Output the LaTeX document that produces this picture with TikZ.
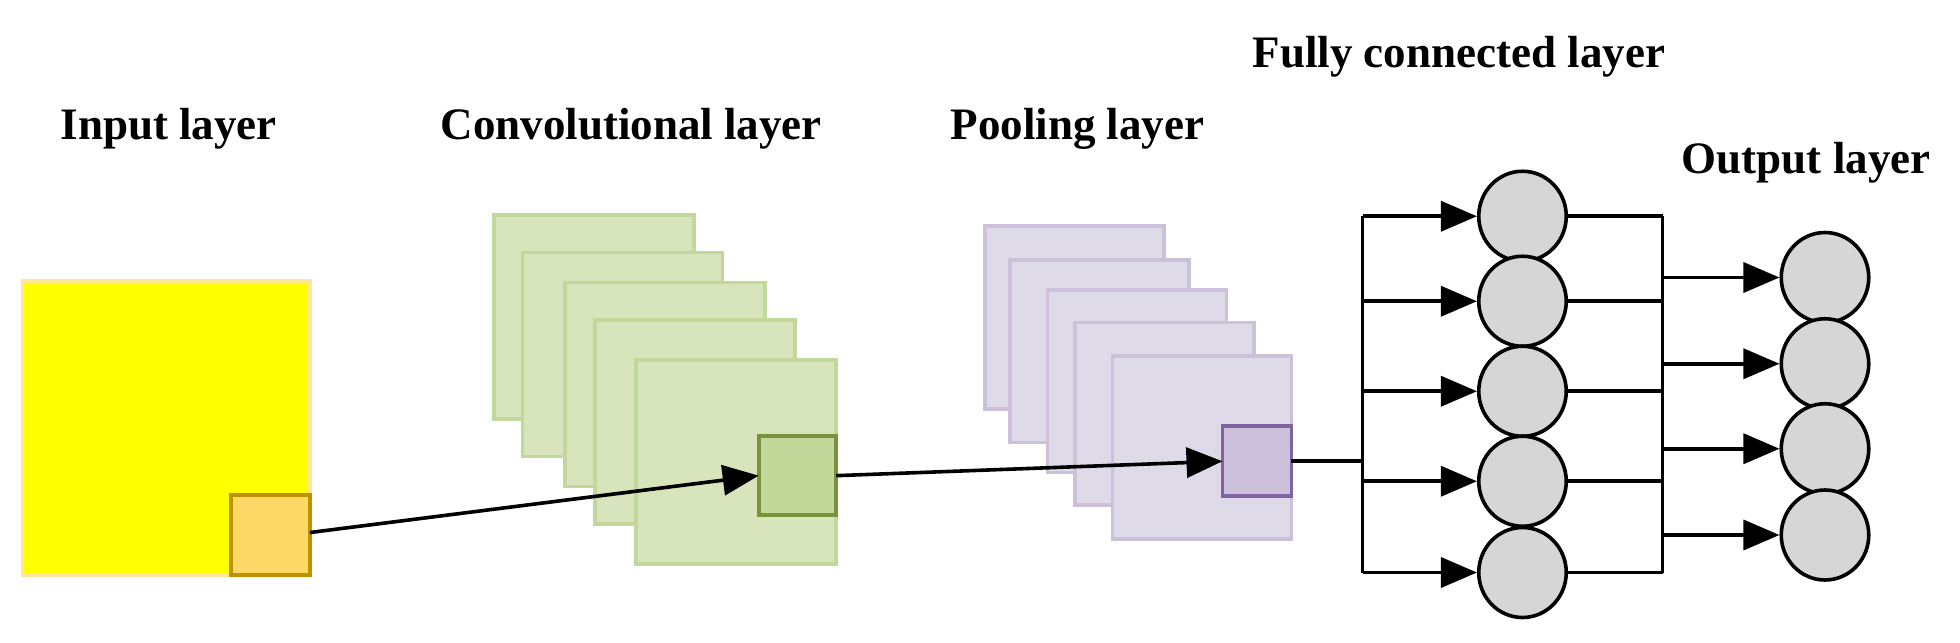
\documentclass[tikz,border=0pt]{standalone}
\usepackage{fontspec}
\setmainfont{Liberation Serif}
\usetikzlibrary{shapes.geometric,arrows.meta}
\definecolor{inF}{HTML}{FFFF00}\definecolor{inD}{HTML}{FFE699}
\definecolor{ikF}{HTML}{FFD966}\definecolor{ikD}{HTML}{BF9000}
\definecolor{cvF}{HTML}{D8E4BC}\definecolor{cvD}{HTML}{C4D79B}
\definecolor{ckF}{HTML}{C4D79B}\definecolor{ckD}{HTML}{77933C}
\definecolor{plF}{HTML}{DFDAE8}\definecolor{plD}{HTML}{CCC0DA}
\definecolor{pkF}{HTML}{CCC0DA}\definecolor{pkD}{HTML}{8064A2}
\begin{document}
\begin{tikzpicture}[x=0.625pt,y=-0.625pt,
  box/.style={draw,line width=1.8pt,inner sep=0,outer sep=0,anchor=north west},
  inp/.style={box,fill=inF,draw=inD,minimum width=143.75pt,minimum height=146.9pt},
  inpk/.style={box,fill=ikF,draw=ikD,minimum width=39.4pt,minimum height=40pt},
  conv/.style={box,fill=cvF,draw=cvD,minimum width=100pt,minimum height=101.9pt},
  convk/.style={box,fill=ckF,draw=ckD,minimum width=38.75pt,minimum height=39.4pt},
  pool/.style={box,fill=plF,draw=plD,minimum width=89.4pt,minimum height=91.25pt},
  poolk/.style={box,fill=pkF,draw=pkD,minimum width=34.4pt,minimum height=35pt},
  neu/.style={ellipse,draw,line width=1.8pt,fill=black!16,minimum width=43.75pt,minimum height=45pt,inner sep=0},
  con/.style={line width=1.8pt},
  arr/.style={con,-{Triangle[length=18pt,width=15pt]}},
  lab/.style={font=\fontsize{22.5pt}{25pt}\selectfont\bfseries}]
\useasboundingbox (0,0) rectangle (1568,514);
% labels
\node[lab] (l1) at (135,103) {Input layer};
\node[lab] (l2) at (505,103) {Convolutional layer};
\node[lab] (l3) at (862,103) {Pooling layer};
\node[lab] (l4) at (1167,45) {Fully connected layer};
\node[lab] (l5) at (1445,130) {Output layer};
% input
\node[inp] (in) at (18,225) {};
\node[inpk] (ink) at (185,396) {};
% conv
\node[conv] (c1) at (395,172) {};
\node[conv] (c2) at (418,202) {};
\node[conv] (c3) at (452,226) {};
\node[conv] (c4) at (476,256) {};
\node[conv] (c5) at (509,288) {};
\node[convk] (ck) at (607,349) {};
% pool
\node[pool] (p1) at (788,181) {};
\node[pool] (p2) at (808,208) {};
\node[pool] (p3) at (838,232) {};
\node[pool] (p4) at (860,258) {};
\node[pool] (p5) at (890,285) {};
\node[poolk] (pk) at (978,341) {};
\draw[arr] (ink.east) ++(0,-2) -- (ck.west);
\draw[arr] (ck.east) -- (pk.west);
% fully connected
\foreach \i/\y in {1/173,2/241,3/313,4/385,5/458} \node[neu] (f\i) at (1218,\y) {};
\foreach \i/\y in {1/222,2/291,3/359,4/428} \node[neu] (o\i) at (1460,\y) {};
\coordinate (bl) at (1090,173);
\coordinate (br) at (1330,173);
\draw[con] (pk.east) -- (pk.east -| bl);
\draw[con] (bl) -- (bl |- f5);
\draw[con] (br) -- (br |- f5);
\foreach \i in {1,...,5} {
  \draw[arr] (bl |- f\i) -- (f\i.west);
  \draw[con] (f\i.east) -- (br |- f\i);
}
\foreach \i in {1,...,4} \draw[arr] (br |- o\i) -- (o\i.west);
\end{tikzpicture}
\end{document}
